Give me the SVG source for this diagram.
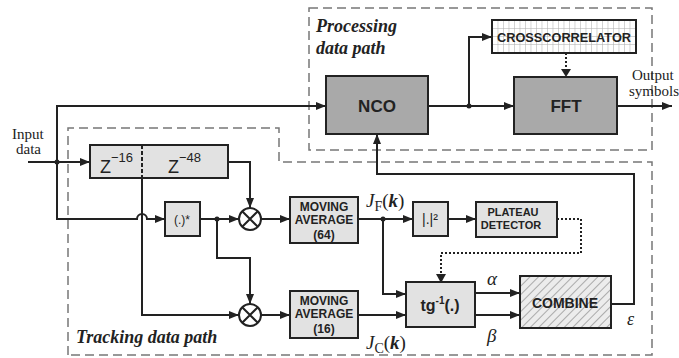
<svg xmlns="http://www.w3.org/2000/svg" width="679" height="358" viewBox="0 0 679 358">
<style>
.box{fill:#e2e2e2;stroke:#222;stroke-width:2}
.dark{fill:#a9a9a9;stroke:#222;stroke-width:2}
.region{fill:none;stroke:#777;stroke-width:1.5;stroke-dasharray:9 5}
.ln{fill:none;stroke:#222;stroke-width:2}
.arr{marker-end:url(#ah)}
.dot{fill:none;stroke:#222;stroke-width:2;stroke-dasharray:2 2}
.sb{font-family:"Liberation Sans",Arial,sans-serif;font-weight:bold;fill:#222}
.s{font-family:"Liberation Sans",Arial,sans-serif;fill:#222}
.ser{font-family:"Liberation Serif","Times New Roman",serif;fill:#222}
.bi{font-family:"Liberation Serif","Times New Roman",serif;font-weight:bold;font-style:italic;fill:#222}
.it{font-family:"Liberation Serif","Times New Roman",serif;font-style:italic;fill:#222}
</style>
<defs>
<marker id="ah" markerWidth="10" markerHeight="8" refX="10" refY="4" orient="auto" markerUnits="userSpaceOnUse"><path d="M0,0 L10,4 L0,8 z" fill="#222"/></marker>
<pattern id="hatch" width="6" height="6" patternUnits="userSpaceOnUse" patternTransform="rotate(45)"><rect width="6" height="6" fill="#ececec"/><line x1="0" y1="0" x2="0" y2="6" stroke="#aaa" stroke-width="2"/></pattern>
<pattern id="grid" width="5.5" height="8" patternUnits="userSpaceOnUse" x="492" y="20"><rect width="5.5" height="8" fill="#fff"/><path d="M0,0 V8 M0,0 H5.5" stroke="#aaa" stroke-width="1" fill="none"/></pattern>
</defs>

<!-- regions -->
<g id="processing-region">
<rect class="region" x="309" y="8" width="343" height="142"/>
<text class="bi" x="316" y="32" font-size="18">Processing</text>
<text class="bi" x="316" y="54" font-size="18">data path</text>
</g>
<g id="tracking-region">
<path class="region" d="M68,355 V128 H279 V162 H652 V355 Z"/>
<text class="bi" x="76" y="343" font-size="18">Tracking data path</text>
</g>

<g id="input-label">
<text class="ser" x="12" y="139" font-size="15">Input</text>
<text class="ser" x="16" y="154" font-size="15">data</text>
</g>
<g id="output-label">
<text class="ser" x="632" y="80" font-size="15">Output</text>
<text class="ser" x="629" y="96" font-size="15">symbols</text>
</g>

<!-- connectors -->
<g id="connectors">
<path class="ln arr" d="M28,162 H90"/>
<path class="ln arr" d="M57,162 V106 H326"/>
<path class="ln arr" d="M57,162 V219 H137 A5,5 0 0 1 147,219 H165"/>
<path class="ln arr" d="M228,162 H250 V208"/>
<path class="ln arr" d="M200,219 H239"/>
<path class="ln arr" d="M217,219 V258 H250 V304"/>
<path class="ln arr" d="M142,178 V315 H239"/>
<path class="ln arr" d="M261,219 H290"/>
<path class="ln arr" d="M261,315 H290"/>
<path class="ln arr" d="M358,219 H413"/>
<path class="ln arr" d="M383,219 V294 H406"/>
<path class="ln arr" d="M358,315 H406"/>
<path class="ln arr" d="M448,219 H476"/>
<path class="dot" d="M557,219 H581 V253 H441 V274"/>
<path d="M436,274 L446,274 L441,283 z" fill="#222"/>
<path class="ln arr" d="M475,293 H520"/>
<path class="ln arr" d="M475,315 H520"/>
<path class="ln arr" d="M611,304 H634 V174 H377 V134"/>
<path class="ln arr" d="M428,106 H514"/>
<path class="ln arr" d="M469,106 V37 H492"/>
<path class="dot" d="M566,53 V69"/>
<path d="M561,69 L571,69 L566,77 z" fill="#222"/>
<path class="ln arr" d="M617,106 H672"/>
<circle cx="57" cy="162" r="2.5" fill="#222"/>
<circle cx="217" cy="219" r="2.5" fill="#222"/>
<circle cx="383" cy="219" r="2.5" fill="#222"/>
<circle cx="469" cy="106" r="2.5" fill="#222"/>
</g>

<!-- nodes -->
<g id="delay">
<rect class="box" x="90" y="145" width="138" height="33"/>
<line x1="142" y1="145" x2="142" y2="178" stroke="#222" stroke-width="2" stroke-dasharray="4 2"/>
<text class="s" x="100" y="173" font-size="18">Z<tspan font-size="13" dy="-11">−16</tspan></text>
<text class="s" x="168" y="173" font-size="18">Z<tspan font-size="13" dy="-11">−48</tspan></text>
</g>
<g id="conj">
<rect class="box" x="165" y="202" width="35" height="34"/>
<text class="s" x="182" y="224" font-size="12" text-anchor="middle">(.)*</text>
</g>
<g id="mult1">
<circle cx="250" cy="219" r="11" fill="#fff" stroke="#222" stroke-width="2"/>
<path class="ln" d="M242.2,211.2 L257.8,226.8 M257.8,211.2 L242.2,226.8"/>
</g>
<g id="mult2">
<circle cx="250" cy="315" r="11" fill="#fff" stroke="#222" stroke-width="2"/>
<path class="ln" d="M242.2,307.2 L257.8,322.8 M257.8,307.2 L242.2,322.8"/>
</g>
<g id="ma64">
<rect class="box" x="290" y="197" width="68" height="46"/>
<text class="sb" x="324" y="211" font-size="12" text-anchor="middle">MOVING</text>
<text class="sb" x="324" y="224" font-size="12" text-anchor="middle">AVERAGE</text>
<text class="sb" x="324" y="239" font-size="12" text-anchor="middle">(64)</text>
</g>
<g id="ma16">
<rect class="box" x="290" y="291" width="68" height="47"/>
<text class="sb" x="324" y="305" font-size="12" text-anchor="middle">MOVING</text>
<text class="sb" x="324" y="318" font-size="12" text-anchor="middle">AVERAGE</text>
<text class="sb" x="324" y="333" font-size="12" text-anchor="middle">(16)</text>
</g>
<g id="jf-label">
<text class="it" x="366" y="207" font-size="19">J<tspan class="ser" font-style="normal" font-size="14" dy="4">F</tspan><tspan font-style="normal" dy="-4">(</tspan><tspan font-weight="bold">k</tspan><tspan font-style="normal">)</tspan></text>
</g>
<g id="jc-label">
<text class="it" x="366" y="349" font-size="19">J<tspan class="ser" font-style="normal" font-size="14" dy="4">C</tspan><tspan font-style="normal" dy="-4">(</tspan><tspan font-weight="bold">k</tspan><tspan font-style="normal">)</tspan></text>
</g>
<g id="mag">
<rect class="box" x="413" y="202" width="35" height="34"/>
<text class="s" x="430" y="224" font-size="14" text-anchor="middle">|.|²</text>
</g>
<g id="plateau">
<rect class="box" x="476" y="202" width="81" height="35"/>
<text class="sb" x="513" y="216" font-size="11" text-anchor="middle">PLATEAU</text>
<text class="sb" x="511" y="229" font-size="11" text-anchor="middle">DETECTOR</text>
</g>
<g id="atan">
<rect class="box" x="406" y="282" width="69" height="45"/>
<text class="sb" x="440" y="311" font-size="16" text-anchor="middle">tg<tspan font-size="10" dy="-7">-1</tspan><tspan dy="7">(.)</tspan></text>
</g>
<g id="alpha-label"><text class="it" x="487" y="285" font-size="19">α</text></g>
<g id="beta-label"><text class="it" x="487" y="342" font-size="19">β</text></g>
<g id="combine">
<rect x="520" y="276" width="91" height="52" fill="url(#hatch)" stroke="#222" stroke-width="2"/>
<text class="sb" x="565" y="308" font-size="14" text-anchor="middle">COMBINE</text>
</g>
<g id="eps-label"><text class="it" x="627" y="325" font-size="18">ε</text></g>
<g id="nco">
<rect class="dark" x="326" y="76" width="102" height="58"/>
<text class="sb" x="377" y="112" font-size="17" text-anchor="middle">NCO</text>
</g>
<g id="crosscorr">
<rect x="492" y="20" width="144" height="33" fill="url(#grid)" stroke="#222" stroke-width="2"/>
<text class="sb" x="564" y="42" font-size="12.5" text-anchor="middle" textLength="134" lengthAdjust="spacingAndGlyphs">CROSSCORRELATOR</text>
</g>
<g id="fft">
<rect class="dark" x="514" y="77" width="103" height="57"/>
<text class="sb" x="566" y="112" font-size="17" text-anchor="middle">FFT</text>
</g>
</svg>
